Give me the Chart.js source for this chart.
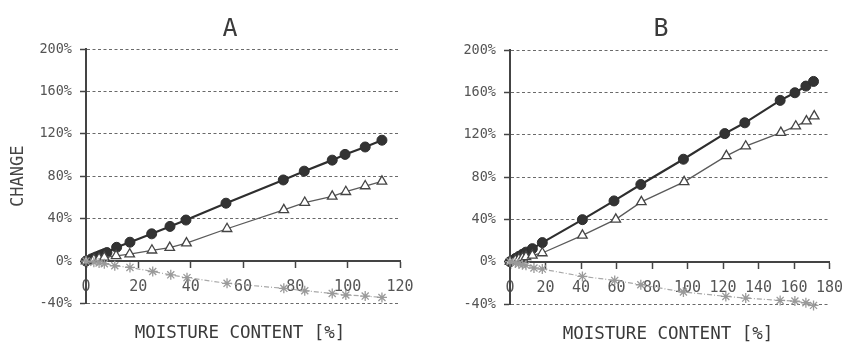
<!DOCTYPE html>
<html><head><meta charset="utf-8">
<script src="https://cdn.jsdelivr.net/npm/chart.js@4"></script>
<style>
html,body{margin:0;padding:0;background:#fff;}
#wrap{position:relative;width:842px;height:347px;overflow:hidden;font-family:"DejaVu Sans Mono",monospace;color:#3a3a3a;}
.pane{position:absolute;top:0;width:421px;height:347px;}
.lbl{position:absolute;transform:translate(-50%,-50%);white-space:nowrap;line-height:1;}
</style></head>
<body><div id="wrap">
<div class="pane" style="left:0"><canvas id="cA" width="421" height="347"></canvas></div>
<div class="pane" style="left:421px"><canvas id="cB" width="421" height="347"></canvas></div>
<div class="lbl" style="left:230px;top:27px;font-size:25px">A</div>
<div class="lbl" style="left:661px;top:27px;font-size:25px">B</div>
<div class="lbl" style="left:240px;top:333px;font-size:17.5px">MOISTURE CONTENT [%]</div>
<div class="lbl" style="left:668px;top:334px;font-size:17.5px">MOISTURE CONTENT [%]</div>
</div>
<script>
// ---- Panel A data ----
const A_circleX = [0, 2, 3, 4, 5, 6, 7, 8, 11.7, 16.8, 25.1, 32.1, 38.2, 53.5, 75.4, 83.4, 94.1, 99, 106.7, 113.1];
const A_circleY = [0, 2, 3, 4, 5, 6, 7, 8, 13, 17.8, 25.7, 32.7, 38.7, 54.6, 76.5, 84.8, 95.2, 100.6, 107.6, 114];
const A_triX = [0, 3, 5, 7, 11.5, 16.7, 25.2, 32, 38.4, 53.9, 75.6, 83.6, 94.1, 99.3, 106.7, 113.1];
const A_triY = [0, 1.5, 2.5, 3.5, 5, 6.5, 10.2, 12.7, 17, 30.5, 48.3, 55.2, 61, 65.4, 70.8, 75.2];
const A_starX = [0, 3, 5, 7, 11, 16.8, 25.5, 32.4, 38.6, 53.9, 75.6, 83.6, 94.1, 99.3, 106.7, 113.1];
const A_starY = [0, -1, -1.8, -2.5, -4.4, -6, -9.8, -13, -15.6, -21, -25.7, -28, -30.5, -32, -33, -34.3];
// ---- Panel B data ----
const B_circleX = [0, 3, 5, 7, 9, 12.6, 18.2, 40.8, 58.6, 73.7, 97.7, 121, 132.3, 152.2, 160.5, 166.7, 171];
const B_circleY = [0, 3, 5, 7, 9, 12.3, 18, 39.7, 57.4, 72.9, 96.8, 121, 131.2, 152.4, 159.6, 165.9, 170.3];
const B_triX = [0, 3, 5, 7, 9, 12.6, 18.2, 40.8, 59.6, 74, 98.1, 121.9, 132.8, 152.6, 161, 167, 171.4];
const B_triY = [0, 1.5, 2.5, 3.5, 4.5, 6, 8.2, 24.9, 40, 56.5, 75.4, 100, 109.1, 122, 128, 132.8, 137.5];
const B_starX = [0, 3, 5, 7, 9, 13.5, 18.2, 40.8, 59, 73.7, 97.7, 121.6, 132.8, 152.2, 160.5, 166.7, 171];
const B_starY = [0, -1.2, -2, -3, -3.5, -6, -7, -13.9, -17.7, -21.8, -28.7, -32.8, -34.4, -36.6, -37.2, -38.8, -41.3];
// ---- axes ----
const yTicks = [-40, 0, 40, 80, 120, 160, 200];
const A_xTicks = [0, 20, 40, 60, 80, 100, 120];
const B_xTicks = [0, 20, 40, 60, 80, 100, 120, 140, 160, 180];
const yTitle = "CHANGE";

const FONT = '"DejaVu Sans Mono", monospace';
const pts = (xs, ys) => xs.map((x, i) => ({x: x, y: ys[i]}));

function makeChart(id, cx, cy, tx, ty, sx, sy, xTicks, axisLeft, pad, showTitle) {
  const xMax = xTicks[xTicks.length - 1];
  return new Chart(document.getElementById(id), {
    type: 'line',
    data: {
      datasets: [
        { data: pts(sx, sy), borderColor: '#a8a8a8', borderWidth: 1.2, borderDash: [5, 2, 1, 2],
          pointStyle: 'star', pointRadius: 5, pointBorderColor: '#9a9a9a', pointBorderWidth: 1.3,
          pointBackgroundColor: '#9a9a9a', tension: 0, clip: false },
        { data: pts(tx, ty), borderColor: '#5a5a5a', borderWidth: 1.3,
          pointStyle: 'triangle', pointRadius: 5.5, pointBorderColor: '#444', pointBorderWidth: 1.3,
          pointBackgroundColor: '#ffffff', tension: 0, clip: false },
        { data: pts(cx, cy), borderColor: '#2e2e2e', borderWidth: 2.2,
          pointStyle: 'circle', pointRadius: 5, pointBorderColor: '#2e2e2e', pointBorderWidth: 1,
          pointBackgroundColor: '#333', tension: 0, clip: false }
      ]
    },
    options: {
      responsive: false, animation: false, devicePixelRatio: 1,
      layout: { padding: pad },
      plugins: { legend: { display: false }, tooltip: { enabled: false }, title: { display: false } },
      scales: {
        x: {
          type: 'linear', position: { y: 0 }, min: 0, max: xMax,
          afterBuildTicks: s => { s.ticks = xTicks.map(v => ({ value: v })); },
          afterFit: s => { s.paddingLeft = 0; s.paddingRight = 0; },
          grid: { drawOnChartArea: false, drawTicks: true, tickLength: 6, tickColor: '#444', tickWidth: 1.5 },
          border: { display: true, color: '#444', width: 2 },
          ticks: { color: '#555', padding: 11, maxRotation: 0, autoSkip: false,
                   font: { family: FONT, size: 15 } }
        },
        y: {
          type: 'linear', position: 'left', min: -40, max: 200,
          afterBuildTicks: s => { s.ticks = yTicks.map(v => ({ value: v })); },
          afterFit: s => { s.width = axisLeft; },
          grid: { color: '#6a6a6a', lineWidth: 1, drawTicks: true, tickLength: 6,
                  tickColor: '#444', tickWidth: 1.5, tickBorderDash: [] },
          border: { display: true, color: '#444', width: 2, dash: [3, 2.5] },
          ticks: { color: '#555', padding: 8, callback: v => v + '%',
                   font: { family: FONT, size: 13.5 } },
          title: { display: showTitle, text: yTitle, color: '#444', padding: { top: 8, bottom: 0 },
                   font: { family: FONT, size: 17 } }
        }
      }
    }
  });
}

makeChart('cA', A_circleX, A_circleY, A_triX, A_triY, A_starX, A_starY, A_xTicks, 86,
  { top: 49, right: 21, bottom: 43.5, left: 0 }, true);
makeChart('cB', B_circleX, B_circleY, B_triX, B_triY, B_starX, B_starY, B_xTicks, 89,
  { top: 50, right: 12.5, bottom: 43, left: 0 }, false);
</script>
</body></html>
